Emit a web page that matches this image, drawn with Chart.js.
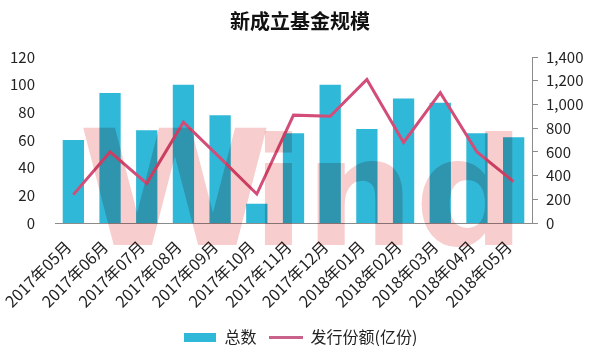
<!DOCTYPE html>
<html>
<head>
<meta charset="utf-8">
<script src="https://cdn.jsdelivr.net/npm/chart.js@4.4.1/dist/chart.umd.min.js"></script>
<style>
html,body{margin:0;padding:0;background:#fff;}
#wrap{width:600px;height:360px;}
</style>
</head>
<body>
<div id="wrap"><canvas id="c" width="600" height="360"></canvas></div>
<script>
const categories = ["2017年05月","2017年06月","2017年07月","2017年08月","2017年09月","2017年10月","2017年11月","2017年12月","2018年01月","2018年02月","2018年03月","2018年04月","2018年05月"];
const fundCount = [60, 94, 67, 100, 78, 14, 65, 100, 68, 90, 87, 65, 62];
const issueShares = [240, 600, 335, 850, 550, 245, 910, 900, 1210, 680, 1100, 600, 350];
const leftTicks = [0, 20, 40, 60, 80, 100, 120];
const rightTicks = [0, 200, 400, 600, 800, 1000, 1200, 1400];

const BAR = '#30b8d8';
const LINE = '#d24d78';
const FONT = '"Noto Sans CJK SC", "Noto Sans", sans-serif';

function swatch(w, h, color) {
  const cv = document.createElement('canvas');
  cv.width = w; cv.height = h;
  const g = cv.getContext('2d');
  g.fillStyle = color; g.fillRect(0, 0, w, h);
  return cv;
}
const barSwatch = swatch(32, 9, BAR);
const lineSwatch = swatch(34, 3, '#c9628a');

function fitText(ctx, txt, x0, x1, base) {
  const w = ctx.measureText(txt).width;
  ctx.save();
  ctx.translate(x0, base);
  ctx.scale((x1 - x0) / w, 1);
  ctx.fillText(txt, 0, 0);
  ctx.restore();
}

const watermark = {
  id: 'watermark',
  afterDatasetsDraw(chart) {
    const ctx = chart.ctx;
    ctx.save();
    ctx.globalCompositeOperation = 'multiply';
    ctx.fillStyle = '#f7cdcd';
    ctx.font = 'bold 160px "DejaVu Sans"';
    ctx.textBaseline = 'alphabetic';
    fitText(ctx, 'W', 78, 272, 245);
    ctx.font = 'bold 150px "DejaVu Sans"';
    fitText(ctx, 'ind', 252, 525, 245);
    ctx.restore();
  }
};

new Chart(document.getElementById('c'), {
  data: {
    labels: categories,
    datasets: [
      {
        type: 'line',
        label: '发行份额(亿份)',
        data: issueShares,
        yAxisID: 'y2',
        borderColor: LINE,
        backgroundColor: LINE,
        borderWidth: 3,
        pointRadius: 0,
        tension: 0,
        order: 0
      },
      {
        type: 'bar',
        label: '总数',
        data: fundCount,
        yAxisID: 'y',
        backgroundColor: BAR,
        borderWidth: 0,
        barPercentage: 0.58,
        categoryPercentage: 1.0,
        order: 1
      }
    ]
  },
  options: {
    responsive: false,
    animation: false,
    layout: { padding: { left: 0, right: 0, top: 0, bottom: 5 } },
    plugins: {
      title: {
        display: true,
        text: '新成立基金规模',
        color: '#111',
        font: { family: FONT, size: 20, weight: 'bold' },
        padding: { top: 9, bottom: 24 }
      },
      legend: {
        display: true,
        position: 'bottom',
        labels: {
          usePointStyle: true,
          pointStyleWidth: 34,
          color: '#222',
          font: { family: FONT, size: 16 },
          padding: 12,
          generateLabels(chart) {
            return [
              { text: '总数', pointStyle: barSwatch, fillStyle: BAR, strokeStyle: BAR, lineWidth: 0, datasetIndex: 1, fontColor: '#222' },
              { text: '发行份额(亿份)', pointStyle: lineSwatch, fillStyle: LINE, strokeStyle: LINE, lineWidth: 0, datasetIndex: 0, fontColor: '#222' }
            ];
          }
        }
      },
      tooltip: { enabled: false }
    },
    scales: {
      x: {
        grid: { display: false },
        border: { display: true, color: '#8c8c8c', width: 1 },
        ticks: {
          color: '#222',
          font: { family: FONT, size: 16 },
          maxRotation: 45,
          minRotation: 45,
          autoSkip: false,
          padding: 6,
          labelOffset: -5
        }
      },
      y: {
        position: 'left',
        min: 0,
        max: 120,
        afterBuildTicks(scale) { scale.ticks = leftTicks.map(v => ({ value: v })); },
        grid: { display: false },
        border: { display: false },
        ticks: { color: '#222', font: { family: FONT, size: 15 }, padding: 12 },
        afterFit(scale) { scale.width = 55; }
      },
      y2: {
        position: 'right',
        min: 0,
        max: 1400,
        afterBuildTicks(scale) { scale.ticks = rightTicks.map(v => ({ value: v })); },
        grid: { display: true, drawOnChartArea: false, drawTicks: true, tickLength: 6, color: '#8c8c8c' },
        border: { display: true, color: '#8c8c8c', width: 1 },
        ticks: { color: '#222', font: { family: FONT, size: 15 }, padding: 8 },
        afterFit(scale) { scale.width = 68; }
      }
    }
  },
  plugins: [watermark]
});
</script>
</body>
</html>
